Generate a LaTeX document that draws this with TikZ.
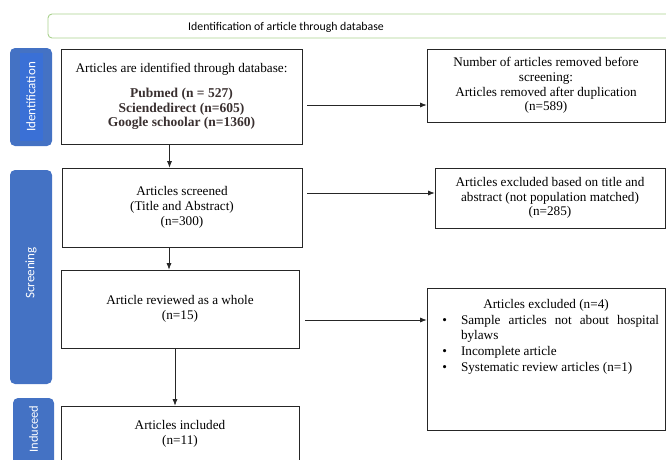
\documentclass[tikz,border=0pt]{standalone}
\usepackage{fontspec}
\setmainfont{Liberation Serif}
\newfontfamily\calibri{Carlito}
\usepackage{enumitem}
\usetikzlibrary{arrows.meta}
\definecolor{tabblue}{HTML}{4472C4}
\definecolor{tabstripe}{HTML}{3A70D6}
\definecolor{bannergreen}{HTML}{A9D18E}
\definecolor{dbtext}{HTML}{3A3030}

\begin{document}
\begin{tikzpicture}[x=1pt,y=-1pt,
  box/.style={draw=black!85, line width=0.7pt, fill=white, align=center, inner sep=2pt,
    font=\fontsize{13.2}{14.7}\selectfont},
  arr/.style={-{Latex[length=6.5pt,width=5pt]}, line width=0.7pt, black!85},
  tab/.style={fill=tabblue, rounded corners=5pt},
  tablabel/.style={rotate=90, text=white, font=\calibri\fontsize{13}{15}\selectfont}]
\useasboundingbox (0,0) rectangle (666,459);

% heading band
\draw[bannergreen, line width=0.9pt, rounded corners=4pt] (48,14) rectangle (700,38);
\node[font=\calibri\fontsize{11.8}{14}\selectfont] (banner) at (286,27) {Identification of article through database};

% side tabs
\fill[tab] (10,48) rectangle (52,146);
\fill[tabstripe] (20,53) rectangle (43,141);
\node[tablabel] (idtab) at (31,97) {Identification};
\fill[tab] (10,170) rectangle (52,384);
\node[tablabel] (scrtab) at (31,273) {Screening};
\fill[tab] (13,398) rectangle (54,490);
\node[tablabel, font=\calibri\fontsize{12.5}{15}\selectfont] (inctab) at (33.5,429) {Induceed};

% boxes
\node[box, minimum width=241pt, minimum height=95pt] (found) at (181.5,96.5)
  {Articles are identified through database:\\[10pt]
   {\color{dbtext}\bfseries\fontsize{13.5}{13.5}\selectfont Pubmed (n = 527)}\\
   {\color{dbtext}\bfseries\fontsize{13.5}{13.5}\selectfont Sciendedirect (n=605)}\\
   {\color{dbtext}\bfseries\fontsize{13.5}{13.5}\selectfont Google schoolar (n=1360)}};
\node[box, minimum width=238pt, minimum height=73pt] (removed) at (546,85.5)
  {Number of articles removed before\\ screening:\\ Articles removed after duplication\\ (n=589)};
\node[box, minimum width=240pt, minimum height=79pt] (screened) at (182,207.5)
  {Articles screened\\ (Title and Abstract)\\ (n=300)};
\node[box, minimum width=230pt, minimum height=60pt] (excltitle) at (550,198)
  {Articles excluded based on title and\\ abstract (not population matched)\\ (n=285)};
\node[box, minimum width=238pt, minimum height=78pt] (reviewed) at (180,309)
  {Article reviewed as a whole\\ (n=15)};
\node[box, minimum width=238pt, minimum height=142pt] (exclfull) at (546,359)
  {\begin{minipage}[c][120pt][t]{226pt}
   {\centering Articles excluded (n=4)\par}
   \begin{itemize}[leftmargin=28pt, labelsep=14pt, itemsep=1.5pt, topsep=1.5pt, parsep=0pt, partopsep=0pt]
   \item Sample articles not about hospital \mbox{bylaws}
   \item Incomplete article
   \item Systematic review articles (n=1)
   \end{itemize}
   \end{minipage}};
\node[box, minimum width=238pt, minimum height=56pt] (included) at (180,434)
  {Articles included\\ (n=11)};

% connectors
\draw[arr] ([xshift=5pt,yshift=-8.5pt]found.east) coordinate (f1) -- (f1 -| removed.west);
\draw[arr] ([xshift=-12pt]found.south) coordinate (f2) -- (f2 |- screened.north);
\draw[arr] ([xshift=5pt,yshift=14.5pt]screened.east) coordinate (s1) -- (s1 -| excltitle.west);
\draw[arr] ([xshift=-13pt]screened.south) coordinate (s2) -- (s2 |- reviewed.north);
\draw[arr] ([xshift=6pt,yshift=-11pt]reviewed.east) coordinate (r1) -- (r1 -| exclfull.west);
\draw[arr] ([xshift=-5pt]reviewed.south) coordinate (r2) -- (r2 |- included.north);
\end{tikzpicture}
\end{document}
